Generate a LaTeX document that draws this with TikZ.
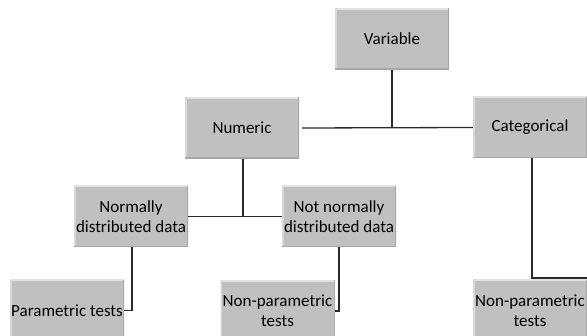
\documentclass[tikz,border=0pt]{standalone}
\usepackage{fontspec}
\setmainfont{Carlito}
\definecolor{boxgray}{HTML}{C0C0C0}
\definecolor{boxlight}{HTML}{E2E2E2}
\definecolor{boxdark}{HTML}{A8A8A8}
\definecolor{linecol}{HTML}{2A2A2A}
\begin{document}
\begin{tikzpicture}[x=1pt,y=-1pt,
  box/.style={rectangle, fill=boxgray, minimum width=114pt, minimum height=61pt,
    inner sep=0pt, align=center, text=black,
    font=\fontsize{17}{20}\selectfont,
    path picture={
      \draw[boxlight, line width=3pt] (path picture bounding box.north west) -- (path picture bounding box.north east);
      \draw[boxlight!70!boxgray, line width=3pt] (path picture bounding box.north west) -- (path picture bounding box.south west);
      \draw[boxdark, line width=2pt] (path picture bounding box.south west) -- (path picture bounding box.south east);
      \draw[boxdark, line width=2pt] (path picture bounding box.north east) -- (path picture bounding box.south east);
    }},
  conn/.style={draw=linecol, line width=1.3pt}]
\useasboundingbox (0,0) rectangle (587,336);
\clip (0,0) rectangle (587,336);
\node[box] (var) at (392,39) {Variable};
\node[box] (num) at (242,128) {Numeric};
\node[box] (cat) at (530,127.5) {Categorical};
\node[box] (norm) at (131,216.5) {Normally\\distributed data};
\node[box] (nnorm) at (339,216.5) {Not normally\\distributed data};
\node[box] (par) at (67,310.5) {Parametric tests};
\node[box] (npar) at (277.5,311) {Non-parametric\\tests};
\node[box] (npar2) at (530,310.5) {Non-parametric\\tests};
\coordinate (catend) at (587,278);
\draw[conn] ([xshift=3pt]num.east) -- (cat.west);
\draw[conn] (var.south) -- (var.south |- num.east);
\draw[conn] ([xshift=1pt]num.south) -- ([xshift=1pt]num.south |- norm.east);
\draw[conn] (norm.east) -- (nnorm.west);
\draw[conn] ([xshift=1pt]norm.south) |- (par.east);
\draw[conn] (nnorm.south) |- (npar.east);
\draw[conn] ([xshift=2pt]cat.south) |- (catend);
\end{tikzpicture}
\end{document}
